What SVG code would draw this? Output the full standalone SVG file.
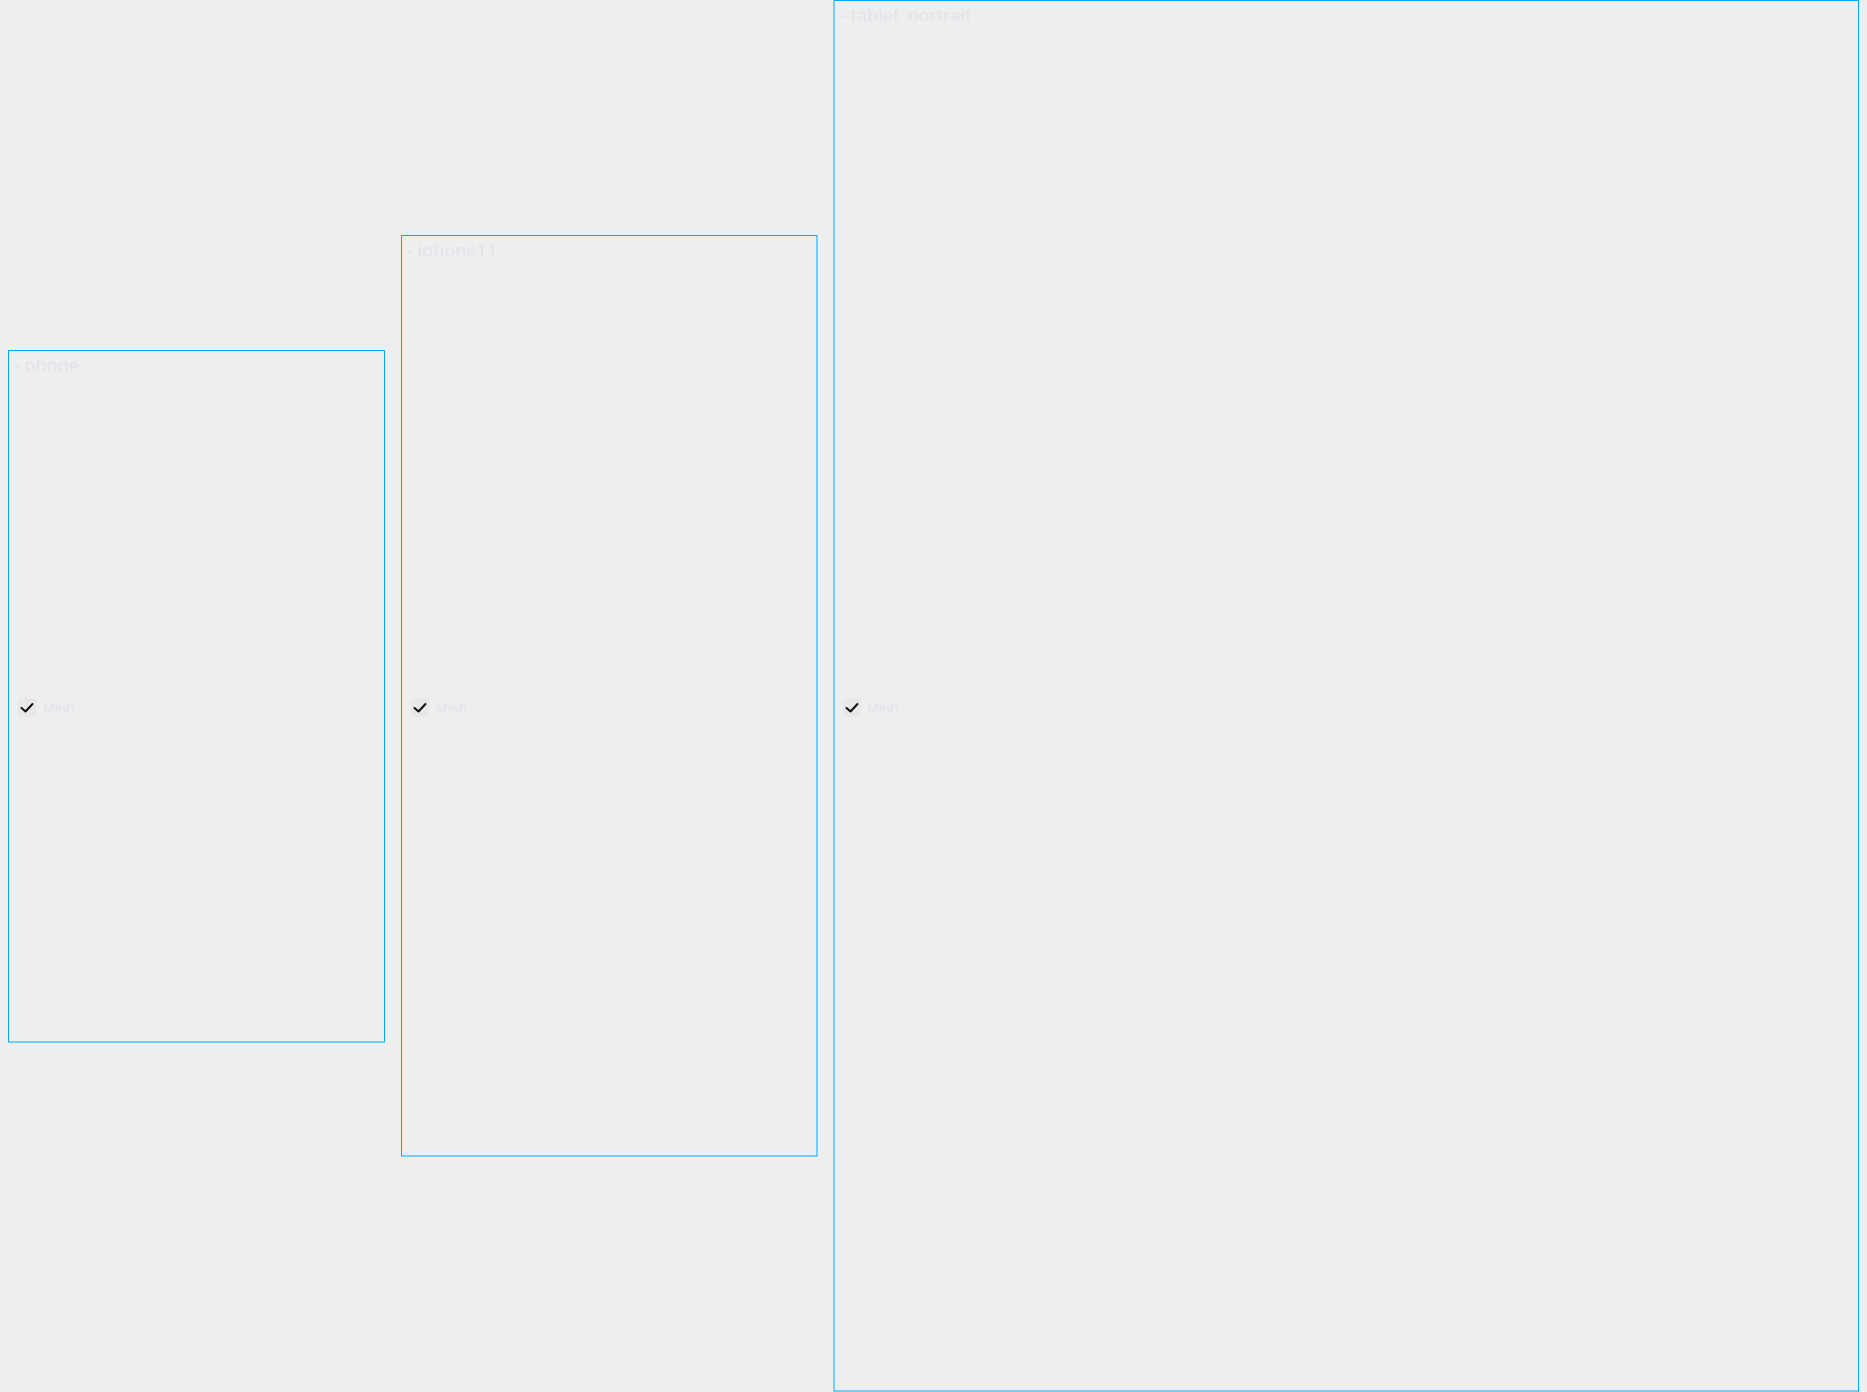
<svg xmlns="http://www.w3.org/2000/svg" width="1867" height="1392" viewBox="0 0 1867 1392">
<style>
.frame{fill:none;stroke:#00aaff;stroke-width:1}
.title{font-family:"Noto Sans","DejaVu Sans",sans-serif;font-size:18px;fill:#e6e1eb}
.lbl{font-family:"Noto Sans","DejaVu Sans",sans-serif;font-size:13px;fill:#e6e1eb}
.cb{fill:#e8e8e8}
.chk{fill:none;stroke:#111111;stroke-width:2;stroke-linecap:round;stroke-linejoin:round}
</style>
<defs>
<clipPath id="c1"><rect x="8" y="350" width="376" height="21"/></clipPath>
<clipPath id="c2"><rect x="401" y="235" width="416" height="21"/></clipPath>
<clipPath id="c3"><rect x="834" y="0" width="1025" height="21"/></clipPath>
</defs>
<rect width="1867" height="1392" fill="#eeeeee"/>
<g id="phone">
<rect class="frame" x="8.5" y="350.5" width="376" height="691.5"/>
<text class="title" x="14" y="372" clip-path="url(#c1)">- phone</text>
<rect class="cb" x="18" y="698" width="18" height="19" rx="2"/>
<path class="chk" d="M21.5 708 L25.5 711.5 L32.5 704"/>
<text class="lbl" x="43" y="713">Minh</text>
</g>
<g id="iphone11">
<rect class="frame" x="401.5" y="235.5" width="415.5" height="920.5"/>
<text class="title" x="407" y="257" clip-path="url(#c2)">- iphone11</text>
<rect class="cb" x="411" y="698" width="18" height="19" rx="2"/>
<path class="chk" d="M414.5 708 L418.5 711.5 L425.5 704"/>
<text class="lbl" x="436" y="713">Minh</text>
</g>
<g id="tablet_portrait">
<rect class="frame" x="834" y="0.5" width="1024.5" height="1390.5"/>
<text class="title" x="840" y="22" clip-path="url(#c3)">- tablet_portrait</text>
<rect class="cb" x="843" y="698" width="18" height="19" rx="2"/>
<path class="chk" d="M846.5 708 L850.5 711.5 L857.5 704"/>
<text class="lbl" x="867" y="713">Minh</text>
</g>
<g id="connectors"></g>
</svg>
